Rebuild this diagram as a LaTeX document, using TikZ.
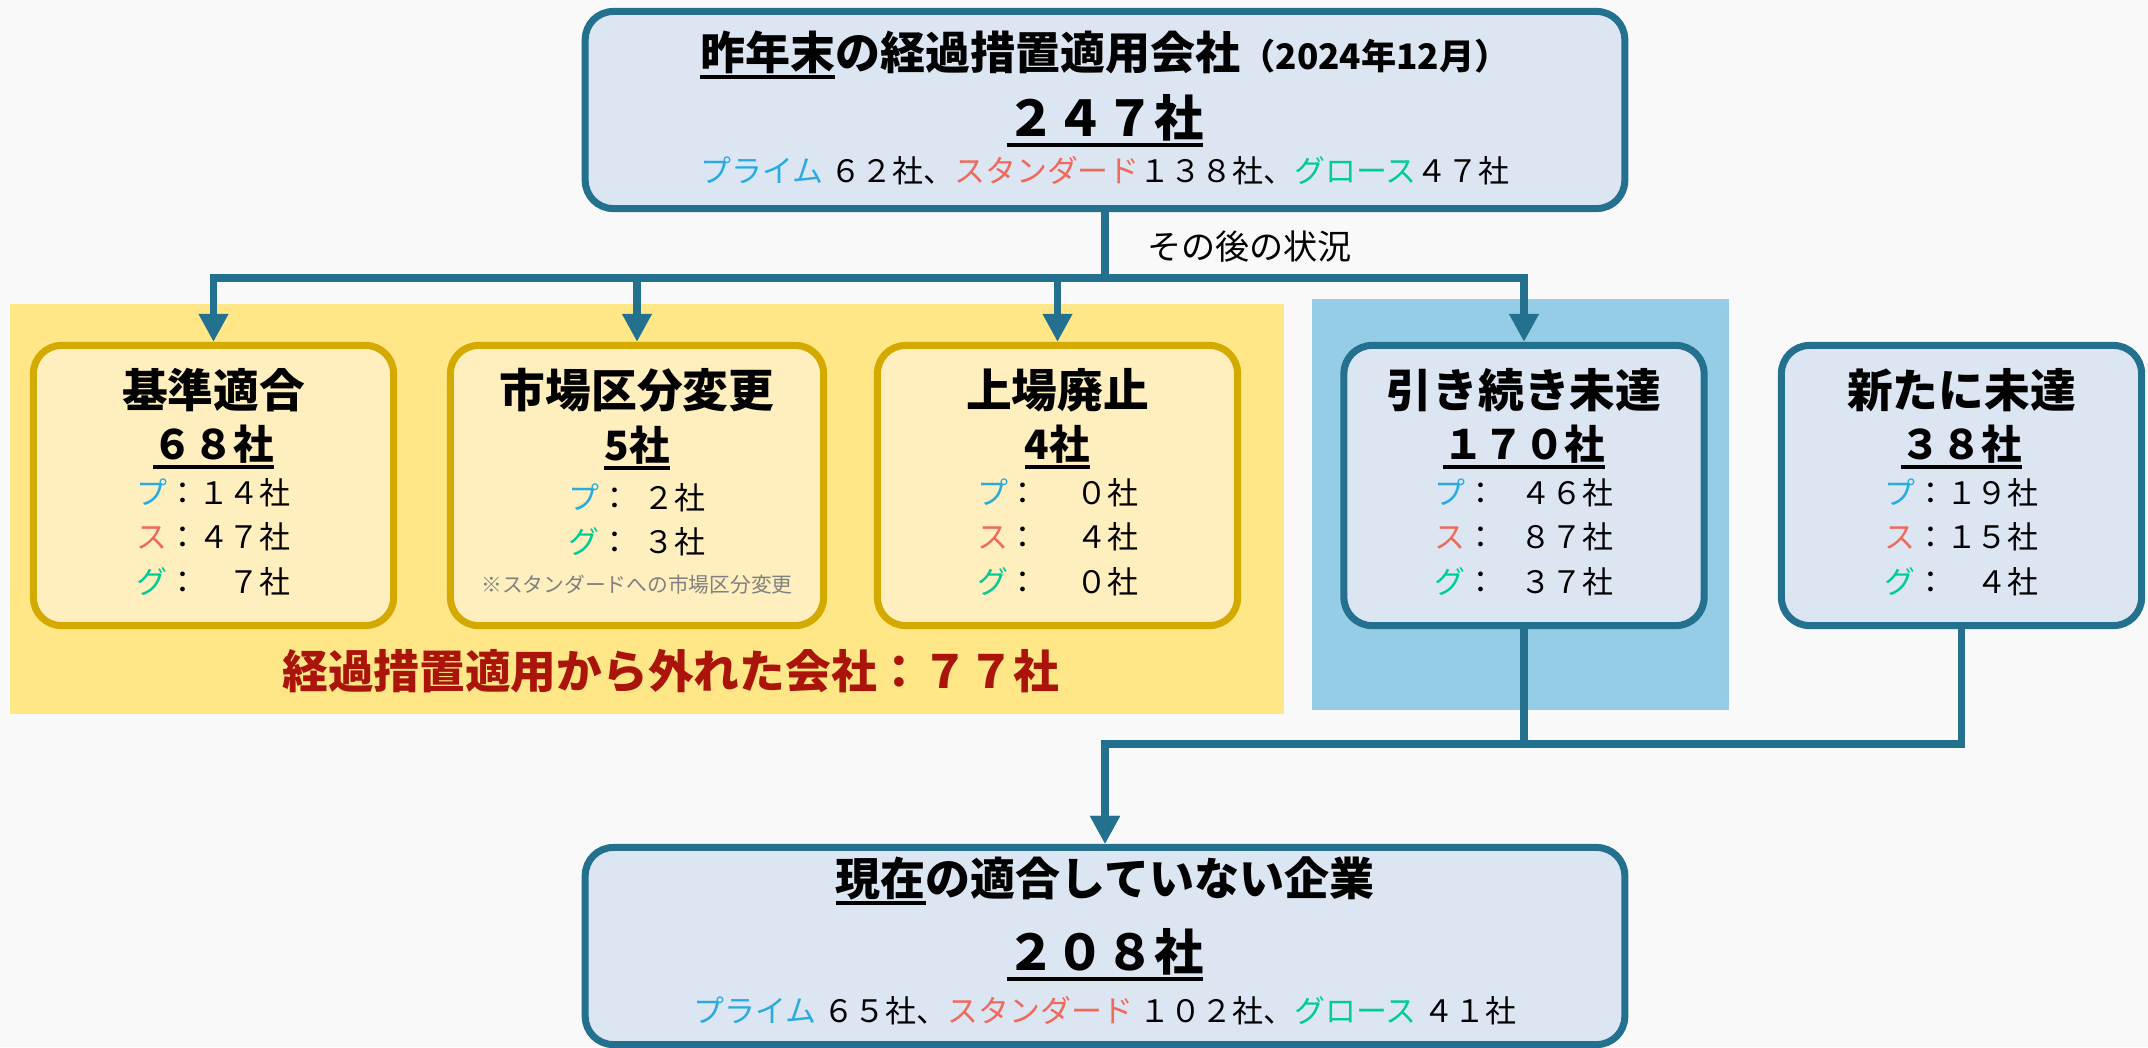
\documentclass[tikz,border=0pt]{standalone}
\usepackage{fontspec}
\setmainfont{Noto Sans CJK JP}
\usetikzlibrary{arrows.meta}
\usetikzlibrary{positioning}

\definecolor{edgeblue}{RGB}{35,113,143}
\definecolor{paleblue}{RGB}{220,230,242}
\definecolor{goldline}{RGB}{212,170,0}
\definecolor{paleyellow}{RGB}{255,239,190}
\definecolor{bandyellow}{RGB}{255,230,135}
\definecolor{bandblue}{RGB}{149,205,230}
\definecolor{primecol}{RGB}{41,171,226}
\definecolor{stdcol}{RGB}{240,105,90}
\definecolor{growthcol}{RGB}{0,204,150}
\definecolor{exitred}{RGB}{170,20,10}
\definecolor{notegray}{RGB}{128,128,128}
\definecolor{pagebg}{RGB}{249,249,249}

% underline with a heavier rule
\newcommand{\ulx}[1]{\setbox0=\hbox{#1}\rlap{\rule[-0.22em]{\wd0}{0.09em}}\box0}
% one market row: coloured kana, colon, right aligned count
\newcommand{\rowcnt}[4]{\textcolor{#1}{#2}：\makebox[#3][r]{#4}}

\begin{document}
\begin{tikzpicture}[x=0.01cm, y=-0.01cm,
  mainbox/.style={draw=edgeblue, line width=2pt, fill=paleblue, rounded corners=8pt, minimum width=10.39cm, minimum height=1.97cm},
  exitbox/.style={draw=goldline, line width=2pt, fill=paleyellow, rounded corners=8pt, minimum width=3.60cm, minimum height=2.80cm},
  restbox/.style={exitbox, draw=edgeblue, fill=paleblue},
  conn/.style={draw=edgeblue, line width=2.2pt, -{Triangle[length=8pt,width=8pt]}},
  headtext/.style={font=\bfseries\fontsize{12.8}{15}\selectfont},
  bigcount/.style={font=\bfseries\fontsize{14}{16}\selectfont},
  splittext/.style={font=\fontsize{8.8}{11}\selectfont},
  boxtitle/.style={font=\bfseries\fontsize{13}{15}\selectfont},
  boxcount/.style={font=\bfseries\fontsize{11.5}{14}\selectfont},
  rowtext/.style={font=\fontsize{8.8}{12.6}\selectfont, align=left}]

\useasboundingbox (0,0) rectangle (2148,1047);
\fill[pagebg] (0,0) rectangle (2148,1047);

% bands behind the boxes
\fill[bandyellow] (10,304) rectangle (1284,714);
\fill[bandblue] (1312,299) rectangle (1729,710);

% last year
\node[mainbox] (Top) at (1105,110) {};
\node[headtext] (TopTitle) at (1105,55) {\ulx{昨年末}の経過措置適用会社{\fontsize{10}{12}\selectfont（2024年12月）}};
\node[bigcount] (TopCount) at (1105,121) {\ulx{２４７社}};
\node[splittext] (TopSplit) at (1105,171) {\textcolor{primecol}{プライム} ６２社、\textcolor{stdcol}{スタンダード}１３８社、\textcolor{growthcol}{グロース}４７社};

\node[font=\fontsize{9.7}{12}\selectfont, anchor=west] (Status) at (1135,247) {その後の状況};

% boxes that left the transition measures
\node[exitbox] (Kijun) at (213.5,485.5) {};
\node[boxtitle] (KijunT) at (213.5,390) {基準適合};
\node[boxcount] (KijunN) at (213.5,447) {\ulx{６８社}};
\node[rowtext] (KijunR) at (213.5,537) {\rowcnt{primecol}{プ}{3em}{１４社}\\ \rowcnt{stdcol}{ス}{3em}{４７社}\\ \rowcnt{growthcol}{グ}{3em}{７社}};

\node[exitbox, minimum width=3.73cm] (Shijo) at (637,485.5) {};
\node[boxtitle] (ShijoT) at (637,390) {市場区分変更};
\node[boxcount] (ShijoN) at (637,448) {\ulx{5社}};
\node[rowtext] (ShijoR) at (637,520) {\rowcnt{primecol}{プ}{2.4em}{２社}\\ \rowcnt{growthcol}{グ}{2.4em}{３社}};
\node[font=\fontsize{5.9}{7}\selectfont, text=notegray] (ShijoNote) at (637,585) {※スタンダードへの市場区分変更};

\node[exitbox] (Haishi) at (1057.5,485.5) {};
\node[boxtitle] (HaishiT) at (1057.5,390) {上場廃止};
\node[boxcount] (HaishiN) at (1057.5,447) {\ulx{4社}};
\node[rowtext] (HaishiR) at (1057.5,537) {\rowcnt{primecol}{プ}{3.2em}{０社}\\ \rowcnt{stdcol}{ス}{3.2em}{４社}\\ \rowcnt{growthcol}{グ}{3.2em}{０社}};

\node[font=\bfseries\fontsize{13}{15}\selectfont, text=exitred] (ExitSum) at (671,671) {経過措置適用から外れた会社：７７社};

% boxes still below the criteria
\node[restbox] (Mitatsu) at (1524,485.5) {};
\node[boxtitle] (MitatsuT) at (1524,390) {引き続き未達};
\node[boxcount] (MitatsuN) at (1524,447) {\ulx{１７０社}};
\node[rowtext] (MitatsuR) at (1524,537) {\rowcnt{primecol}{プ}{3.8em}{４６社}\\ \rowcnt{stdcol}{ス}{3.8em}{８７社}\\ \rowcnt{growthcol}{グ}{3.8em}{３７社}};

\node[restbox] (Shinki) at (1961.5,485.5) {};
\node[boxtitle] (ShinkiT) at (1961.5,390) {新たに未達};
\node[boxcount] (ShinkiN) at (1961.5,447) {\ulx{３８社}};
\node[rowtext] (ShinkiR) at (1961.5,537) {\rowcnt{primecol}{プ}{3em}{１９社}\\ \rowcnt{stdcol}{ス}{3em}{１５社}\\ \rowcnt{growthcol}{グ}{3em}{４社}};

% now
\node[mainbox] (Now) at (1105,946) {};
\node[headtext] (NowTitle) at (1105,881) {\ulx{現在}の適合していない企業};
\node[bigcount] (NowCount) at (1105,955) {\ulx{２０８社}};
\node[splittext] (NowSplit) at (1105,1011) {\textcolor{primecol}{プライム} ６５社、\textcolor{stdcol}{スタンダード} １０２社、\textcolor{growthcol}{グロース} ４１社};

% connectors
\draw[conn] (Top.south) -- ++(0,66) -| (Kijun.north);
\draw[conn] (Top.south) -- ++(0,66) -| (Shijo.north);
\draw[conn] (Top.south) -- ++(0,66) -| (Haishi.north);
\draw[conn] (Top.south) -- ++(0,66) -| (Mitatsu.south |- Mitatsu.north);
\draw[conn] (Mitatsu.south) -- ++(0,115) -| (Now.north);
\draw[conn] (Shinki.south) -- ++(0,115) -| (Now.north);
\end{tikzpicture}
\end{document}
